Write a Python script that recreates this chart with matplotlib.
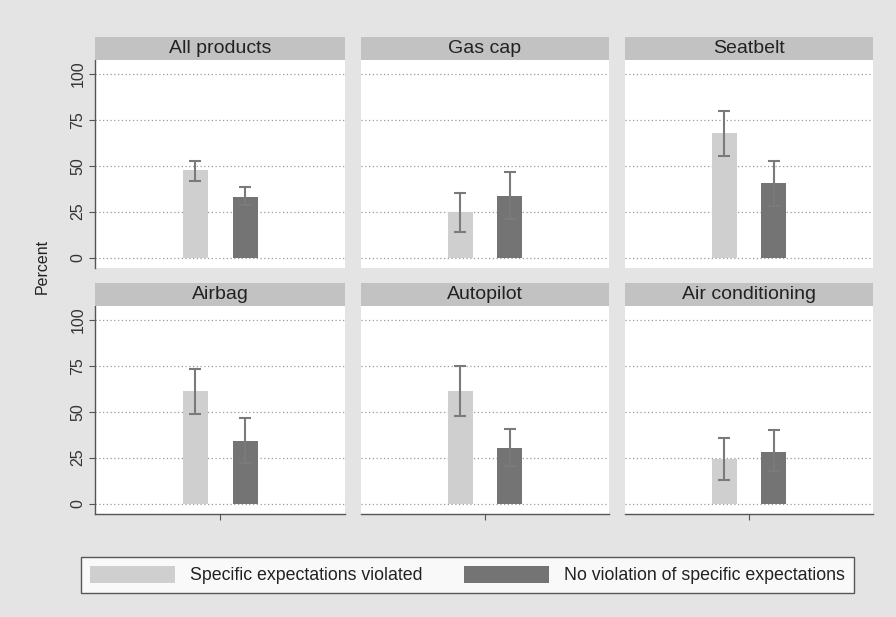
import matplotlib
matplotlib.use("Agg")
import matplotlib.pyplot as plt
from matplotlib.patches import Patch

plt.rcParams['font.family'] = ['Liberation Sans', 'DejaVu Sans']

panels = ["All products", "Gas cap", "Seatbelt", "Airbag", "Autopilot", "Air conditioning"]
viol_mean = [47.5, 25, 68, 61.5, 61.5, 24]
viol_lo = [41.5, 14, 55.5, 48.5, 47.5, 13]
viol_hi = [52.5, 35, 80, 73, 75, 35.5]
noviol_mean = [33, 33.5, 40.5, 34, 30, 28]
noviol_lo = [28.5, 21, 28, 22, 20.5, 17.5]
noviol_hi = [38.5, 46.5, 52.5, 46.5, 40.5, 40]
series_labels = ["Specific expectations violated", "No violation of specific expectations"]
yticks = [0, 25, 50, 75, 100]

W, H = 896, 617
fig = plt.figure(figsize=(W / 100, H / 100), dpi=100)
fig.patch.set_facecolor('#e4e4e4')

col_x = [(95, 345), (361, 609), (625, 873)]
row_y = [(60, 268, 37), (306, 514, 283)]

c_light = '#cfcfcf'
c_dark = '#747474'
c_err = '#7a7a7a'
c_strip = '#c2c2c2'

def fx(px):
    return px / W

def fy(py):
    return 1 - py / H

for i, name in enumerate(panels):
    r, c = divmod(i, 3)
    x0, x1 = col_x[c]
    ytop, ybot, stop = row_y[r]
    ax = fig.add_axes([fx(x0), fy(ybot), fx(x1 - x0), (ybot - ytop) / H])
    ax.set_facecolor('white')
    ax.set_xlim(0, 10)
    ax.set_ylim(-5.7, 107.5)
    for yv in yticks:
        ax.axhline(yv, color='#9a9a9a', lw=0.9, ls=(0, (1, 2)), zorder=0)
    ax.bar([4], [viol_mean[i]], width=1.0, color=c_light, zorder=2)
    ax.bar([6], [noviol_mean[i]], width=1.0, color=c_dark, zorder=2)
    ax.errorbar([4], [viol_mean[i]],
                yerr=[[viol_mean[i] - viol_lo[i]], [viol_hi[i] - viol_mean[i]]],
                fmt='none', ecolor=c_err, elinewidth=1.5, capsize=4, capthick=1.5, zorder=3)
    ax.errorbar([6], [noviol_mean[i]],
                yerr=[[noviol_mean[i] - noviol_lo[i]], [noviol_hi[i] - noviol_mean[i]]],
                fmt='none', ecolor=c_err, elinewidth=1.5, capsize=4, capthick=1.5, zorder=3)
    for s in ['top', 'right']:
        ax.spines[s].set_visible(False)
    if c == 0:
        ax.spines['left'].set_color('#555555')
        ax.spines['left'].set_linewidth(1.0)
        ax.set_yticks(yticks)
        ax.set_yticklabels([str(v) for v in yticks], rotation=90, va='center', fontsize=11.5, color='#333333')
        ax.tick_params(axis='y', length=4, color='#555555', pad=3)
    else:
        ax.spines['left'].set_visible(False)
        ax.set_yticks([])
    if r == 1:
        ax.spines['bottom'].set_color('#555555')
        ax.spines['bottom'].set_linewidth(1.0)
        ax.set_xticks([5])
        ax.set_xticklabels([''])
        ax.tick_params(axis='x', length=4, color='#555555')
    else:
        ax.spines['bottom'].set_visible(False)
        ax.set_xticks([])
    # strip
    sax = fig.add_axes([fx(x0), fy(ytop), fx(x1 - x0), (ytop - stop) / H])
    sax.set_facecolor(c_strip)
    sax.set_xticks([])
    sax.set_yticks([])
    for s in sax.spines.values():
        s.set_visible(False)
    sax.text(0.5, 0.5, name, ha='center', va='center', fontsize=14, color='#222222',
             transform=sax.transAxes)

fig.text(fx(42), fy(266), "Percent", rotation=90, ha='center', va='center', fontsize=11.5, color='#222222')

handles = [Patch(facecolor=c_light, edgecolor='none'), Patch(facecolor=c_dark, edgecolor='none')]
leg = fig.legend(handles, series_labels, loc='center', bbox_to_anchor=(fx(467.5), fy(575)),
                 ncol=2, fontsize=12.8, frameon=True, fancybox=False,
                 handlelength=4.8, handleheight=1.12, handletextpad=0.85, columnspacing=2.3,
                 borderpad=0.5, labelcolor='#222222')
leg.get_frame().set_edgecolor('#333333')
leg.get_frame().set_linewidth(1.0)
leg.get_frame().set_facecolor('white')

fig.savefig("out.png", dpi=100, facecolor=fig.get_facecolor())
